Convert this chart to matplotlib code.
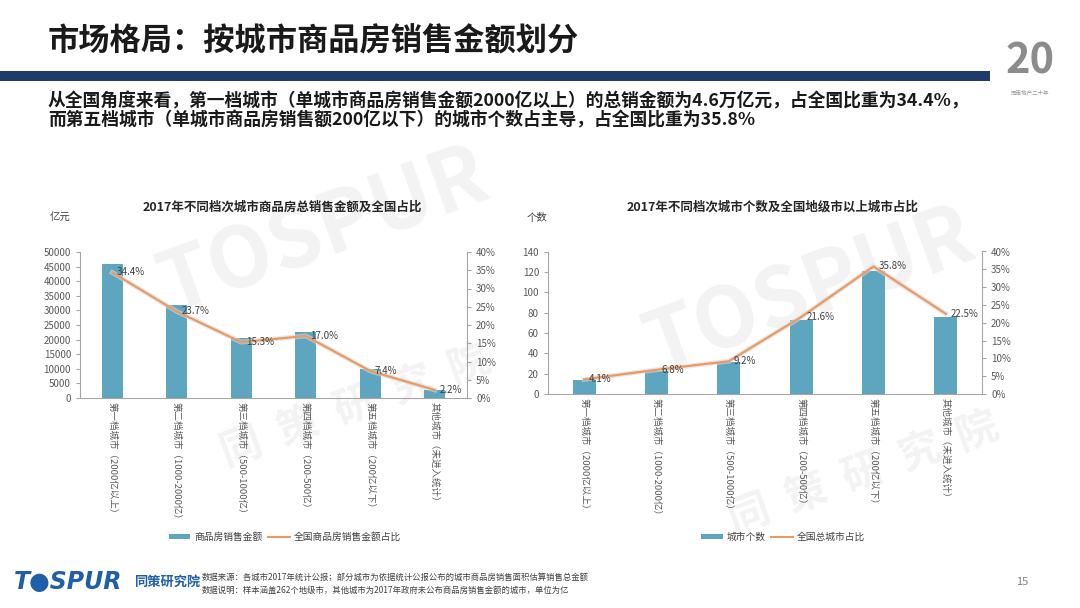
import matplotlib
matplotlib.use("Agg")
from matplotlib import pyplot as plt
from matplotlib.patches import Patch, Rectangle
from matplotlib.lines import Line2D
from matplotlib.ticker import MultipleLocator, FuncFormatter

plt.rcParams['font.family'] = ['Noto Sans CJK SC', 'DejaVu Sans']

# 数据
categories = ["第一档城市（2000亿以上）", "第二档城市（1000-2000亿）", "第三档城市（500-1000亿）",
              "第四档城市（200-500亿）", "第五档城市（200亿以下）", "其他城市（未进入统计）"]
sales = [46000, 31700, 20400, 22700, 9900, 2900]
sales_pct = [34.4, 23.7, 15.3, 17.0, 7.4, 2.2]
city_count = [14, 23, 31, 73, 121, 76]
city_pct = [4.1, 6.8, 9.2, 21.6, 35.8, 22.5]

bar_color = "#5ea5bf"
line_color = "#ec9a63"
tick_color = "#595959"
spine_color = "#a6a6a6"

fig = plt.figure(figsize=(10.8, 6.08), dpi=100)
fig.patch.set_facecolor("white")

# 水印 (背景层)
bg = fig.add_axes([0, 0, 1, 1], zorder=-10)
bg.set_axis_off()
bg.set_xlim(0, 1)
bg.set_ylim(0, 1)
for (x, y, s, fs) in [(0.30, 0.62, "TOSPUR", 60), (0.75, 0.52, "TOSPUR", 60),
                      (0.33, 0.33, "同  策  研  究  院", 30), (0.80, 0.22, "同  策  研  究  院", 30)]:
    bg.text(x, y, s, fontsize=fs, fontweight="bold", color="#f3f3f3",
            rotation=20, ha="center", va="center")

# 标题
fig.text(48 / 1080, 1 - 42 / 608, "市场格局：按城市商品房销售金额划分", fontsize=22.5, fontweight="bold",
         color="#1a1a1a", ha="left", va="center")
fig.patches.append(Rectangle((0, 1 - 81 / 608), 990 / 1080, 10 / 608, transform=fig.transFigure,
                             facecolor="#1f3a6b", edgecolor="none"))
fig.text(48 / 1080, 1 - 101 / 608,
         "从全国角度来看，第一档城市（单城市商品房销售金额2000亿以上）的总销金额为4.6万亿元，占全国比重为34.4%，",
         fontsize=12.8, fontweight="bold", color="#1a1a1a", ha="left", va="center")
fig.text(48 / 1080, 1 - 120 / 608,
         "而第五档城市（单城市商品房销售额200亿以下）的城市个数占主导，占全国比重为35.8%",
         fontsize=12.8, fontweight="bold", color="#1a1a1a", ha="left", va="center")

# 右上角 logo
fig.text(1030 / 1080, 1 - 62 / 608, "20", fontsize=30, fontweight="bold", color="#8c8c8c",
         ha="center", va="center")
fig.text(1030 / 1080, 1 - 92 / 608, "同策地产二十年", fontsize=4, color="#999999", ha="center", va="center")


def draw_chart(rect, values, pct, ymax, ystep, title, unit, title_x, unit_x, legend_labels, legend_x):
    ax = fig.add_axes(rect)
    x = range(len(categories))
    ax.bar(x, values, width=0.32, color=bar_color, zorder=2)
    ax.set_xlim(-0.5, len(categories) - 0.5)
    ax.set_ylim(0, ymax)
    ax.yaxis.set_major_locator(MultipleLocator(ystep))
    ax.set_xticks(list(x))
    ax.set_xticklabels(categories, rotation=270, fontsize=6.8, color=tick_color, va="top", ha="center")
    ax.tick_params(axis="x", length=0, pad=3)
    ax.tick_params(axis="y", labelsize=7, colors=tick_color, length=3, color=spine_color)
    for s in ["top", "right"]:
        ax.spines[s].set_visible(False)
    for s in ["left", "bottom"]:
        ax.spines[s].set_color(spine_color)
    ax.patch.set_alpha(0)

    ax2 = ax.twinx()
    ax2.plot(x, pct, color="#d9d9d9", linewidth=3.5, alpha=0.6, zorder=3)
    ax2.plot(x, pct, color=line_color, linewidth=1.6, zorder=4)
    ax2.set_ylim(0, 40)
    ax2.yaxis.set_major_locator(MultipleLocator(5))
    ax2.yaxis.set_major_formatter(FuncFormatter(lambda v, p: f"{v:.0f}%"))
    ax2.tick_params(axis="y", labelsize=7, colors=tick_color, length=3, color=spine_color)
    for s in ["top", "left", "bottom"]:
        ax2.spines[s].set_visible(False)
    ax2.spines["right"].set_color(spine_color)
    for i, p in enumerate(pct):
        ax2.text(i + 0.07, p, f"{p:.1f}%", fontsize=7, color="#404040", ha="left", va="center", zorder=5)

    fig.text(title_x, 1 - 207 / 608, title, fontsize=9, fontweight="bold", color="#262626",
             ha="center", va="center")
    fig.text(unit_x, 1 - 218 / 608, unit, fontsize=7.5, color="#404040", ha="left", va="center")

    handles = [Patch(facecolor=bar_color, edgecolor="none"), Line2D([], [], color=line_color, linewidth=1.5)]
    fig.legend(handles, legend_labels, loc="center", bbox_to_anchor=(legend_x, 1 - 537 / 608),
               ncol=2, frameon=False, fontsize=7, handlelength=2.2, handleheight=0.5,
               columnspacing=0.6, handletextpad=0.4, labelcolor="#404040")
    return ax


draw_chart([80 / 1080, 1 - 398 / 608, 387 / 1080, 146 / 608], sales, sales_pct, 50000, 5000,
           "2017年不同档次城市商品房总销售金额及全国占比", "亿元", 282 / 1080, 50 / 1080,
           ["商品房销售金额", "全国商品房销售金额占比"], 285 / 1080)
draw_chart([548 / 1080, 1 - 394 / 608, 434 / 1080, 142.5 / 608], city_count, city_pct, 140, 20,
           "2017年不同档次城市个数及全国地级市以上城市占比", "个数", 773 / 1080, 527 / 1080,
           ["城市个数", "全国总城市占比"], 783 / 1080)

# 页脚
fig.text(14 / 1080, 1 - 582 / 608, "T●SPUR", fontsize=17, fontweight="bold", fontstyle="italic",
         color="#1f5fa8", ha="left", va="center", family=["DejaVu Sans"])
fig.text(134 / 1080, 1 - 582 / 608, "同策研究院", fontsize=9.5, fontweight="bold",
         color="#1f5fa8", ha="left", va="center")
fig.text(202 / 1080, 1 - 577 / 608,
         "数据来源：各城市2017年统计公报；部分城市为依据统计公报公布的城市商品房销售面积估算销售总金额",
         fontsize=6, color="#404040", ha="left", va="center")
fig.text(202 / 1080, 1 - 590 / 608,
         "数据说明：样本涵盖262个地级市，其他城市为2017年政府未公布商品房销售金额的城市，单位为亿",
         fontsize=6, color="#404040", ha="left", va="center")
fig.text(1022 / 1080, 1 - 582 / 608, "15", fontsize=8, color="#7f7f7f", ha="center", va="center")

fig.savefig("out.png", dpi=100, facecolor="white")
